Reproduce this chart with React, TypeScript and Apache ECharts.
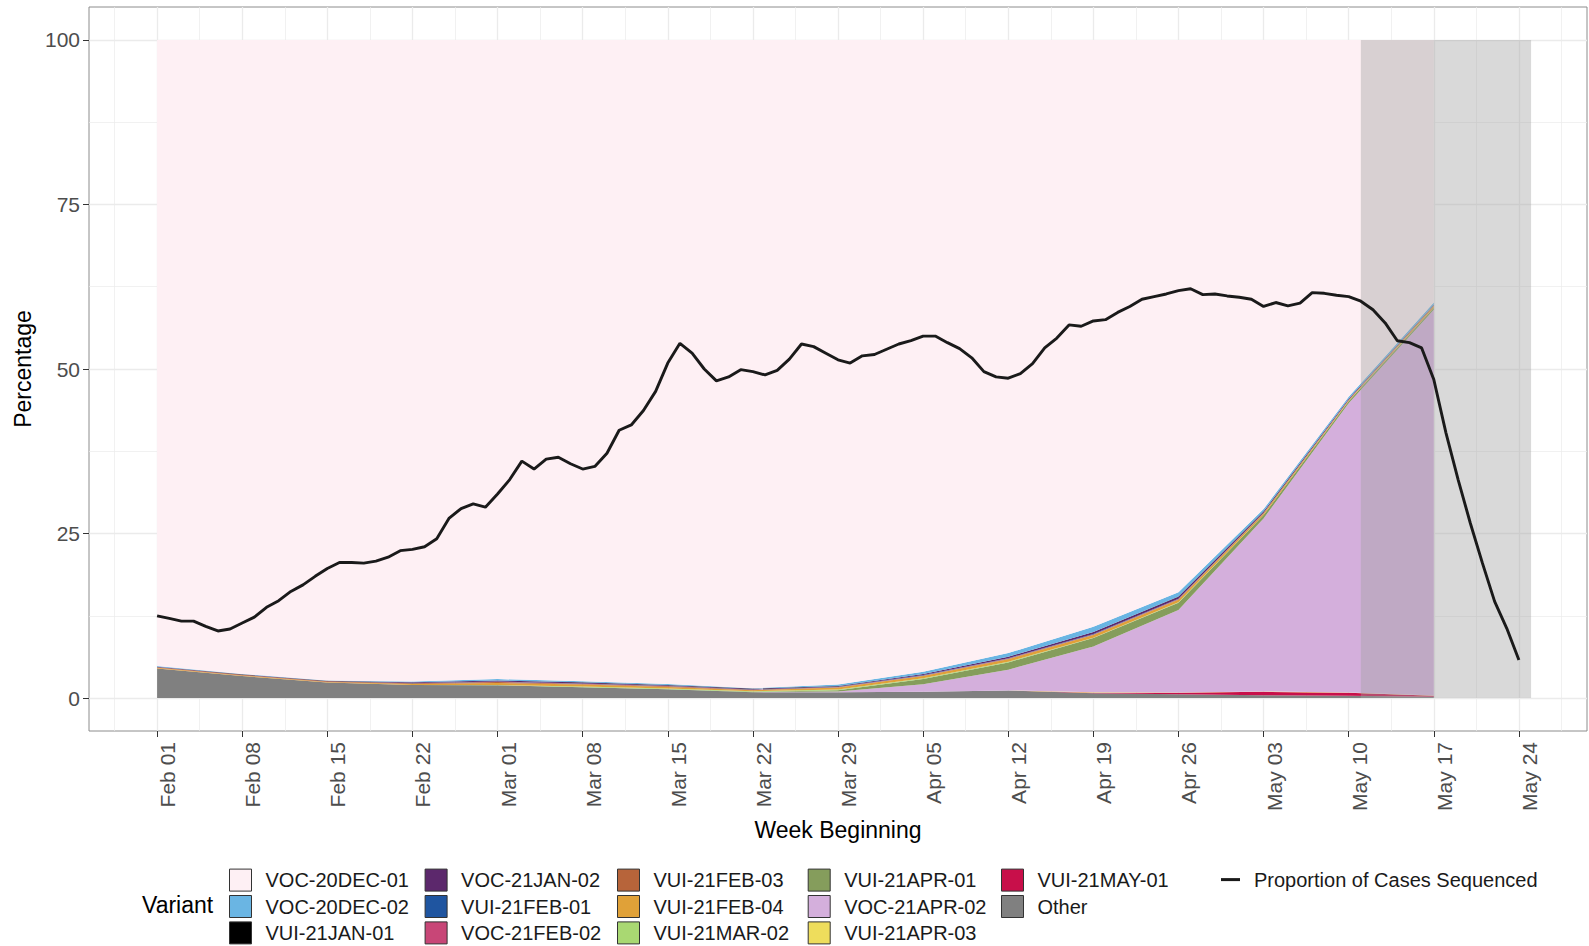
import React, { useEffect, useRef } from "react";
import * as echarts from "echarts";

// ---------------- DATA ----------------
const tickDates = [
  "2021-02-01", "2021-02-08", "2021-02-15", "2021-02-22", "2021-03-01", "2021-03-08",
  "2021-03-15", "2021-03-22", "2021-03-29", "2021-04-05", "2021-04-12", "2021-04-19",
  "2021-04-26", "2021-05-03", "2021-05-10", "2021-05-17", "2021-05-24",
];
const tickLabels = [
  "Feb 01", "Feb 08", "Feb 15", "Feb 22", "Mar 01", "Mar 08", "Mar 15", "Mar 22",
  "Mar 29", "Apr 05", "Apr 12", "Apr 19", "Apr 26", "May 03", "May 10", "May 17", "May 24",
];
const yTicks = [0, 25, 50, 75, 100];

// weekly variant proportions (week beginning)
const weekDates = [
  "2021-02-01", "2021-02-08", "2021-02-15", "2021-02-22", "2021-03-01", "2021-03-08",
  "2021-03-15", "2021-03-22", "2021-03-29", "2021-04-05", "2021-04-12", "2021-04-19",
  "2021-04-26", "2021-05-03", "2021-05-10", "2021-05-17",
];
const other = [4.5, 3.35, 2.35, 2.0, 1.95, 1.65, 1.35, 0.9, 0.9, 0.95, 1.15, 0.75, 0.6, 0.45, 0.35, 0.2];
const vui21May01 = [0, 0, 0, 0, 0, 0, 0, 0, 0, 0, 0, 0.05, 0.2, 0.5, 0.45, 0.15];
const vui21Apr03 = [0, 0, 0, 0, 0, 0, 0, 0, 0, 0, 0.02, 0.08, 0.05, 0.05, 0.05, 0.05];
const voc21Apr02 = [0, 0, 0, 0, 0, 0, 0, 0, 0.1, 1.15, 3.15, 6.95, 12.55, 26.3, 43.95, 58.6];
const vui21Apr01 = [0, 0, 0, 0, 0, 0, 0, 0.05, 0.2, 0.8, 1.1, 1.3, 1.1, 0.5, 0.3, 0.3];
const vui21Mar02 = [0, 0, 0, 0, 0.05, 0.1, 0.1, 0.1, 0.1, 0.1, 0.1, 0.05, 0.05, 0.02, 0.02, 0];
const vui21Feb04 = [0.1, 0.1, 0.1, 0.15, 0.3, 0.3, 0.25, 0.15, 0.3, 0.35, 0.4, 0.4, 0.4, 0.25, 0.15, 0.3];
const vui21Feb03 = [0.1, 0.1, 0.1, 0.1, 0.15, 0.1, 0.1, 0.05, 0.05, 0.05, 0.05, 0.05, 0.05, 0.03, 0.02, 0.02];
const voc21Feb02 = [0, 0, 0, 0.02, 0.03, 0.03, 0.03, 0.03, 0.03, 0.05, 0.05, 0.05, 0.05, 0.03, 0.02, 0.01];
const vui21Feb01 = [0, 0, 0, 0.02, 0.03, 0.03, 0.03, 0.03, 0.03, 0.05, 0.05, 0.05, 0.05, 0.03, 0.02, 0.01];
const voc21Jan02 = [0.05, 0.05, 0.05, 0.1, 0.15, 0.15, 0.1, 0.1, 0.1, 0.15, 0.2, 0.3, 0.3, 0.2, 0.15, 0.1];
const vui21Jan01 = [0.02, 0.02, 0.02, 0.03, 0.03, 0.03, 0.03, 0.03, 0.02, 0.02, 0.02, 0.02, 0.02, 0.01, 0.01, 0.01];
const voc20Dec02 = [0.1, 0.05, 0.05, 0.1, 0.2, 0.15, 0.15, 0.05, 0.25, 0.35, 0.55, 0.8, 0.65, 0.35, 0.3, 0.35];
const voc20Dec01 = [95.13, 96.33, 97.33, 97.48, 97.11, 97.46, 97.86, 98.51, 97.92, 95.98, 93.16, 89.15, 83.93, 71.28, 54.21, 39.9];

// daily proportion of cases sequenced, from lineStart
const lineStart = "2021-02-01";
const proportionSequenced = [
  12.5, 12.1, 11.7, 11.7, 10.9, 10.2, 10.5, 11.4, 12.3, 13.8,
  14.8, 16.2, 17.2, 18.5, 19.7, 20.6, 20.6, 20.5, 20.8, 21.4,
  22.4, 22.6, 23.0, 24.2, 27.3, 28.8, 29.5, 29.0, 31.0, 33.2,
  36.0, 34.8, 36.3, 36.6, 35.6, 34.8, 35.2, 37.2, 40.7, 41.5,
  43.7, 46.6, 50.9, 53.9, 52.4, 50.0, 48.2, 48.8, 49.9, 49.6,
  49.1, 49.8, 51.5, 53.8, 53.4, 52.4, 51.4, 50.9, 52.0, 52.2,
  53.0, 53.8, 54.3, 55.0, 55.0, 54.0, 53.1, 51.7, 49.6, 48.8,
  48.6, 49.3, 50.8, 53.2, 54.7, 56.7, 56.5, 57.3, 57.5, 58.6,
  59.5, 60.6, 61.0, 61.4, 61.9, 62.2, 61.3, 61.4, 61.1, 60.9,
  60.6, 59.5, 60.1, 59.6, 60.0, 61.6, 61.5, 61.2, 61.0, 60.3,
  59.0, 57.0, 54.3, 54.0, 53.2, 48.4, 40.3, 33.2, 26.6, 20.5,
  14.7, 10.6, 5.8,
];

// shaded (incomplete data) period
const shadeStart = "2021-05-11";
const shadeEnd = "2021-05-25";

// stacking order: bottom to top
const variantNames = [
  "Other", "VUI-21MAY-01", "VUI-21APR-03", "VOC-21APR-02", "VUI-21APR-01", "VUI-21MAR-02",
  "VUI-21FEB-04", "VUI-21FEB-03", "VOC-21FEB-02", "VUI-21FEB-01", "VOC-21JAN-02",
  "VUI-21JAN-01", "VOC-20DEC-02", "VOC-20DEC-01",
];
const variantValues = [
  other, vui21May01, vui21Apr03, voc21Apr02, vui21Apr01, vui21Mar02, vui21Feb04, vui21Feb03,
  voc21Feb02, vui21Feb01, voc21Jan02, vui21Jan01, voc20Dec02, voc20Dec01,
];

// ---------------- STYLE ----------------
const variantColors: Record<string, string> = {
  "VOC-20DEC-01": "#FEF0F4",
  "VOC-20DEC-02": "#6AB5E3",
  "VUI-21JAN-01": "#000000",
  "VOC-21JAN-02": "#5C286C",
  "VUI-21FEB-01": "#1F55A0",
  "VOC-21FEB-02": "#C84677",
  "VUI-21FEB-03": "#B7643A",
  "VUI-21FEB-04": "#E0A138",
  "VUI-21MAR-02": "#A9D872",
  "VUI-21APR-01": "#859D5C",
  "VOC-21APR-02": "#D4AFDC",
  "VUI-21APR-03": "#EEDD5C",
  "VUI-21MAY-01": "#C80F4A",
  Other: "#808080",
};
const legendColumns = [
  ["VOC-20DEC-01", "VOC-20DEC-02", "VUI-21JAN-01"],
  ["VOC-21JAN-02", "VUI-21FEB-01", "VOC-21FEB-02"],
  ["VUI-21FEB-03", "VUI-21FEB-04", "VUI-21MAR-02"],
  ["VUI-21APR-01", "VOC-21APR-02", "VUI-21APR-03"],
  ["VUI-21MAY-01", "Other"],
];
const legendLefts = [229, 424.6, 617, 807.7, 1001];
const FONT = "'Liberation Sans', Arial, Helvetica, sans-serif";
const DAY = 86400000;

const ts = (d: string) => Date.parse(d + "T00:00:00Z");

export default function App() {
  const ref = useRef<HTMLDivElement>(null);

  useEffect(() => {
    if (!ref.current) return;
    const chart = echarts.init(ref.current, null, { renderer: "svg" });

    const t0 = ts(tickDates[0]);
    const dayOf = (d: string) => (ts(d) - t0) / DAY;
    const tickDays = tickDates.map(dayOf);
    const span = tickDays[tickDays.length - 1] - tickDays[0];
    const dMin = tickDays[0] - 0.05 * span;
    const dMax = tickDays[tickDays.length - 1] + 0.05 * span;
    const tMin = t0 + dMin * DAY;
    const tMax = t0 + dMax * DAY;
    const yMin = -5;
    const yMax = 105;
    const half = (tickDays[1] - tickDays[0]) / 2;
    const xMinor = [tickDays[0] - half, ...tickDays.map((d) => d + half)].filter((v) => v > dMin && v < dMax);
    const yMinor = yTicks.slice(0, -1).map((v, i) => (v + yTicks[i + 1]) / 2);
    const toT = (day: number) => t0 + day * DAY;

    const weekTs = weekDates.map(ts);
    const lineX0 = ts(lineStart);

    const areaSeries = variantNames.map((name, k) => ({
      name,
      type: "line",
      stack: "variants",
      xAxisIndex: 0,
      data: weekTs.map((d, i) => [d, variantValues[k][i]]),
      symbol: "none",
      showSymbol: false,
      silent: true,
      color: variantColors[name],
      itemStyle: { color: variantColors[name] },
      lineStyle: { width: 0, color: variantColors[name] },
      areaStyle: { color: variantColors[name], opacity: 1 },
      z: 2,
    }));

    const grey = "#EBEBEB";
    const gridSeries = {
      name: "__grid",
      type: "line",
      xAxisIndex: 0,
      data: [],
      silent: true,
      markLine: {
        z: 0,
        silent: true,
        symbol: ["none", "none"],
        label: { show: false },
        animation: false,
        data: [
          ...xMinor.map((v) => ({ xAxis: toT(v), lineStyle: { color: grey, width: 0.7, type: "solid" } })),
          ...yMinor.map((v) => ({ yAxis: v, lineStyle: { color: grey, width: 0.7, type: "solid" } })),
          ...tickDays.map((v) => ({ xAxis: toT(v), lineStyle: { color: grey, width: 1.3, type: "solid" } })),
          ...yTicks.map((v) => ({ yAxis: v, lineStyle: { color: grey, width: 1.3, type: "solid" } })),
        ],
      },
    };

    const shadeSeries = {
      name: "__shade",
      type: "line",
      xAxisIndex: 0,
      data: [],
      silent: true,
      markArea: {
        z: 3,
        silent: true,
        animation: false,
        itemStyle: { color: "rgba(160,160,160,0.4)" },
        label: { show: false },
        data: [[{ xAxis: ts(shadeStart), yAxis: 0 }, { xAxis: ts(shadeEnd), yAxis: 100 }]],
      },
    };

    const lineSeries = {
      name: "Proportion of Cases Sequenced",
      type: "line",
      xAxisIndex: 0,
      data: proportionSequenced.map((v, i) => [lineX0 + i * DAY, v]),
      symbol: "none",
      showSymbol: false,
      silent: true,
      color: "#1A1A1A",
      itemStyle: { color: "#1A1A1A" },
      lineStyle: { color: "#1A1A1A", width: 2.9 },
      z: 4,
    };

    const legendText = { fontSize: 20, color: "#1A1A1A", fontFamily: FONT, padding: [0, 0, 0, 9], lineHeight: 22 };

    chart.setOption({
      animation: false,
      backgroundColor: "#FFFFFF",
      textStyle: { fontFamily: FONT },
      grid: {
        left: 89,
        right: 2,
        top: 7,
        bottom: 215,
        show: true,
        borderColor: "#8C8C8C",
        borderWidth: 1,
        backgroundColor: "transparent",
        containLabel: false,
      },
      xAxis: [
        {
          // data axis (hidden): dates
          type: "time",
          min: tMin,
          max: tMax,
          position: "top",
          show: false,
          splitLine: { show: false },
        },
        {
          // visible axis: days since first tick
          type: "value",
          min: dMin,
          max: dMax,
          position: "bottom",
          name: "Week Beginning",
          nameLocation: "middle",
          nameGap: 84,
          nameTextStyle: { fontSize: 23, color: "#000000", fontFamily: FONT },
          axisLine: { show: false, onZero: false },
          splitLine: { show: false },
          axisTick: { show: true, customValues: tickDays, length: 6, lineStyle: { color: "#333333", width: 1 } },
          axisLabel: {
            customValues: tickDays,
            rotate: 90,
            verticalAlign: "top",
            margin: 11,
            fontSize: 21,
            color: "#4D4D4D",
            fontFamily: FONT,
            formatter: (v: number) => {
              const idx = tickDays.findIndex((d) => Math.abs(d - v) < 1e-6);
              return idx >= 0 ? tickLabels[idx] : "";
            },
          },
        },
      ],
      yAxis: {
        type: "value",
        min: yMin,
        max: yMax,
        name: "Percentage",
        nameLocation: "middle",
        nameGap: 52,
        nameRotate: 90,
        nameTextStyle: { fontSize: 23, color: "#000000", fontFamily: FONT },
        axisLine: { show: false, onZero: false },
        splitLine: { show: false },
        axisTick: { show: true, customValues: yTicks, length: 6, lineStyle: { color: "#333333", width: 1 } },
        axisLabel: {
          customValues: yTicks,
          margin: 9,
          fontSize: 21,
          color: "#4D4D4D",
          fontFamily: FONT,
          formatter: (v: number) => String(v),
        },
      },
      legend: [
        ...legendColumns.map((col, i) => ({
          orient: "vertical",
          left: legendLefts[i],
          top: 868.6,
          padding: 0,
          itemGap: 3.4,
          itemWidth: 22,
          itemHeight: 22,
          selectedMode: false,
          data: col.map((n) => ({ name: n, icon: "rect" })),
          itemStyle: { borderColor: "#333333", borderWidth: 1 },
          textStyle: legendText,
        })),
        {
          orient: "vertical",
          left: 1221,
          top: 868.6,
          padding: 0,
          itemWidth: 19,
          itemHeight: 3,
          selectedMode: false,
          data: [{ name: "Proportion of Cases Sequenced", icon: "rect" }],
          itemStyle: { borderWidth: 0 },
          textStyle: legendText,
        },
      ],
      graphic: [
        {
          type: "text",
          x: 142,
          y: 905,
          style: {
            text: "Variant",
            fontSize: 23,
            fill: "#000000",
            fontFamily: FONT,
            verticalAlign: "middle",
            align: "left",
          },
        },
      ],
      series: [gridSeries, ...areaSeries, shadeSeries, lineSeries],
    });

    return () => chart.dispose();
  }, []);

  return (
    <div
      ref={ref}
      style={{ position: "absolute", left: 0, top: 0, width: 1589, height: 946, background: "#FFFFFF" }}
    />
  );
}
